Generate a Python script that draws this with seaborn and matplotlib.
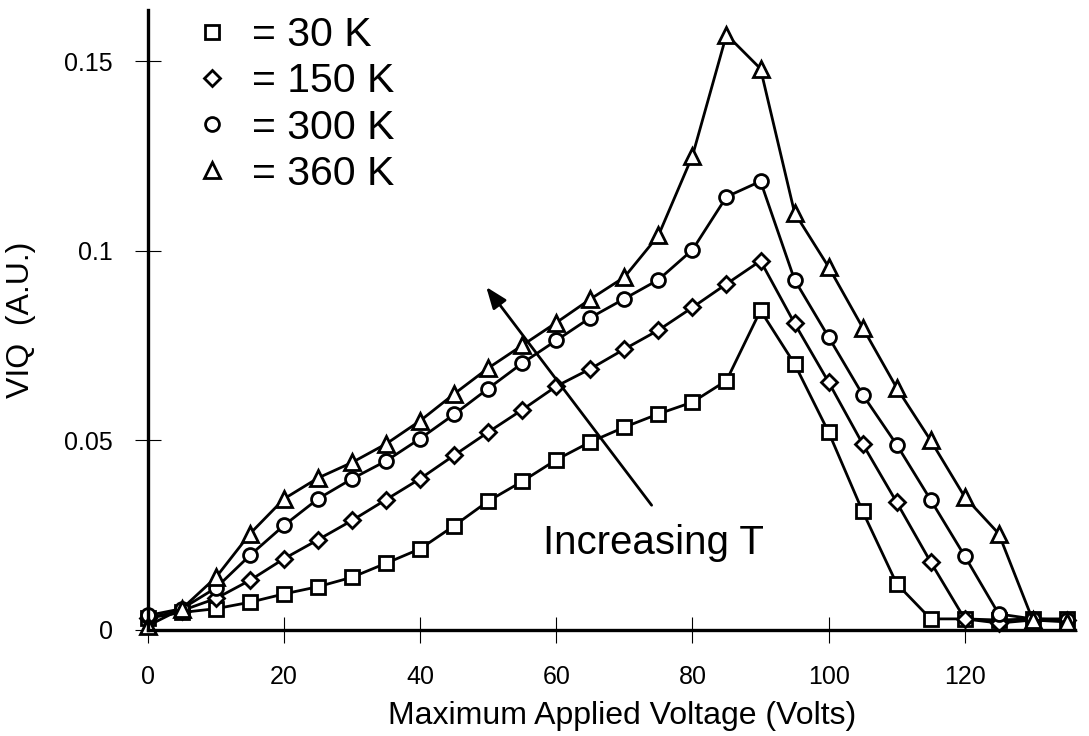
import matplotlib
matplotlib.use('Agg')
import matplotlib.pyplot as plt
from matplotlib.lines import Line2D
import seaborn as sns

volts = list(range(0, 140, 5))

viq_30k = [0.003, 0.0045, 0.0055, 0.0072, 0.0094, 0.0113, 0.0138, 0.0175, 0.0213, 0.0274,
           0.0339, 0.0391, 0.0448, 0.0495, 0.0534, 0.0569, 0.060, 0.0657, 0.0842, 0.0701,
           0.0521, 0.0312, 0.0121, 0.0028, 0.0028, 0.0025, 0.0028, 0.0028]
viq_150k = [0.003, 0.005, 0.0082, 0.013, 0.0187, 0.0237, 0.0288, 0.0343, 0.0398, 0.046,
            0.0521, 0.058, 0.0642, 0.0688, 0.074, 0.079, 0.085, 0.0912, 0.0973, 0.0808,
            0.0653, 0.049, 0.0336, 0.0178, 0.0028, 0.0017, 0.0025, 0.0025]
viq_300k = [0.0037, 0.0055, 0.011, 0.0196, 0.0275, 0.0345, 0.0398, 0.0445, 0.0504, 0.0568,
            0.0636, 0.0703, 0.0763, 0.0823, 0.0873, 0.0923, 0.1002, 0.1142, 0.1183, 0.0923,
            0.0772, 0.062, 0.0488, 0.0342, 0.0194, 0.0041, 0.0028, 0.0025]
viq_360k = [0.001, 0.0055, 0.0138, 0.0253, 0.0345, 0.040, 0.0441, 0.049, 0.0551, 0.0622,
            0.069, 0.075, 0.081, 0.0872, 0.093, 0.104, 0.125, 0.157, 0.148, 0.110,
            0.0957, 0.0797, 0.0638, 0.0499, 0.035, 0.0253, 0.0025, 0.002]

labels = ['= 30 K', '= 150 K', '= 300 K', '= 360 K']
markers = ['s', 'D', 'o', '^']
xticks = [0, 20, 40, 60, 80, 100, 120]
yticks = [0, 0.05, 0.1, 0.15]
ytick_labels = ['0', '0.05', '0.1', '0.15']

sns.set_style('white')
plt.rcParams['font.family'] = ['Liberation Sans', 'DejaVu Sans']
plt.rcParams['text.color'] = 'black'
plt.rcParams['axes.labelcolor'] = 'black'

fig = plt.figure(figsize=(10.89, 7.36), dpi=100)
ax = fig.add_axes([0.1359, 0.1447, 0.8512, 0.8417])

msizes = {'s': 9.5, 'D': 8.0, 'o': 10, '^': 11}
series = [viq_30k, viq_150k, viq_300k, viq_360k]
for vals, m in zip(series, markers):
    sns.lineplot(x=volts, y=vals, ax=ax, color='black', linewidth=2.0,
                 marker=m, markersize=msizes[m], markerfacecolor='white',
                 markeredgecolor='black', markeredgewidth=2.0, clip_on=False)

ax.set_xlim(0, 136.2)
ax.set_ylim(0, 0.1635)
ax.set_xticks(xticks)
ax.set_xticklabels([str(t) for t in xticks])
ax.set_yticks(yticks)
ax.set_yticklabels(ytick_labels)
ax.tick_params(axis='both', bottom=True, left=True, direction='inout', length=19,
               width=0.8, color='black', labelsize=18, labelcolor='black')
ax.tick_params(axis='x', pad=16)
ax.tick_params(axis='y', pad=16)

for s in ['top', 'right']:
    ax.spines[s].set_visible(False)
for s in ['left', 'bottom']:
    ax.spines[s].set_linewidth(2.4)
    ax.spines[s].set_color('black')

ax.set_xlabel('Maximum Applied Voltage (Volts)', fontsize=23)
ax.xaxis.set_label_coords(0.511, -0.115)
ax.set_ylabel('VIQ  (A.U.)', fontsize=23, labelpad=20)

# arrow + label
ax.annotate('', xy=(49.7, 0.0904), xytext=(74.0, 0.0328),
            arrowprops=dict(arrowstyle='-|>,head_length=1.3,head_width=0.5',
                            color='black', lw=2.0, shrinkA=0, shrinkB=0))
ax.text(74.2, 0.0228, 'Increasing T', fontsize=29, ha='center', va='center')

handles = [Line2D([], [], linestyle='none', marker=m, markersize=msizes[m],
                  markerfacecolor='white', markeredgecolor='black', markeredgewidth=2.0)
           for m in markers]
ax.legend(handles, labels, loc='upper left', bbox_to_anchor=(0.047, 0.99),
          frameon=False, fontsize=29.5, handlelength=1.0, handletextpad=0.475,
          labelspacing=0.2, borderpad=0, borderaxespad=0)

fig.savefig('out.png', dpi=100)
